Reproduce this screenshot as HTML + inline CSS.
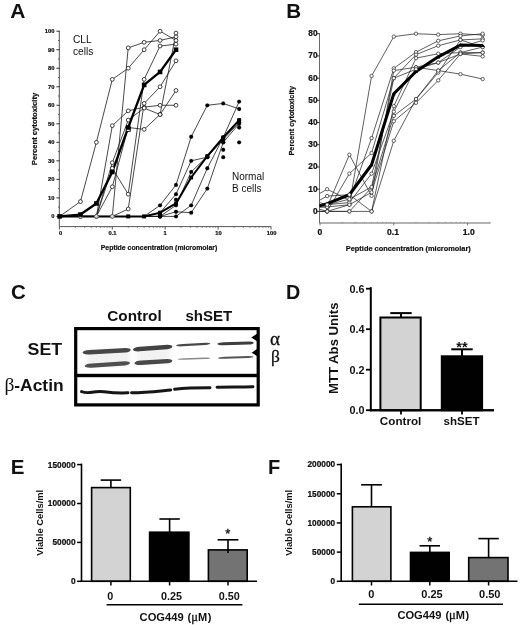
<!DOCTYPE html>
<html><head><meta charset="utf-8"><title>Figure</title>
<style>
html,body{margin:0;padding:0;background:#fff;}
body{width:520px;height:625px;overflow:hidden;font-family:"Liberation Sans",sans-serif;}
svg{display:block;font-family:"Liberation Sans",sans-serif;will-change:transform;opacity:0.999;}
</style></head><body>
<svg width="520" height="625" viewBox="0 0 520 625">
<rect width="520" height="625" fill="#fff"/>
<text x="10.30" y="17.50" font-size="21" font-weight="bold" text-anchor="start" fill="#111" >A</text>
<line x1="59.30" y1="30.80" x2="59.30" y2="226.60" stroke="#333" stroke-width="0.85" />
<line x1="56.40" y1="216.40" x2="59.60" y2="216.40" stroke="#222" stroke-width="0.9" />
<text x="54.40" y="218.40" font-size="5.8" font-weight="bold" text-anchor="end" fill="#111"  stroke="#111" stroke-width="0.22">0</text>
<line x1="58.00" y1="207.14" x2="59.60" y2="207.14" stroke="#333" stroke-width="0.7" />
<line x1="56.40" y1="197.88" x2="59.60" y2="197.88" stroke="#222" stroke-width="0.9" />
<text x="54.40" y="199.88" font-size="5.8" font-weight="bold" text-anchor="end" fill="#111"  stroke="#111" stroke-width="0.22">10</text>
<line x1="58.00" y1="188.62" x2="59.60" y2="188.62" stroke="#333" stroke-width="0.7" />
<line x1="56.40" y1="179.36" x2="59.60" y2="179.36" stroke="#222" stroke-width="0.9" />
<text x="54.40" y="181.36" font-size="5.8" font-weight="bold" text-anchor="end" fill="#111"  stroke="#111" stroke-width="0.22">20</text>
<line x1="58.00" y1="170.10" x2="59.60" y2="170.10" stroke="#333" stroke-width="0.7" />
<line x1="56.40" y1="160.84" x2="59.60" y2="160.84" stroke="#222" stroke-width="0.9" />
<text x="54.40" y="162.84" font-size="5.8" font-weight="bold" text-anchor="end" fill="#111"  stroke="#111" stroke-width="0.22">30</text>
<line x1="58.00" y1="151.58" x2="59.60" y2="151.58" stroke="#333" stroke-width="0.7" />
<line x1="56.40" y1="142.32" x2="59.60" y2="142.32" stroke="#222" stroke-width="0.9" />
<text x="54.40" y="144.32" font-size="5.8" font-weight="bold" text-anchor="end" fill="#111"  stroke="#111" stroke-width="0.22">40</text>
<line x1="58.00" y1="133.06" x2="59.60" y2="133.06" stroke="#333" stroke-width="0.7" />
<line x1="56.40" y1="123.80" x2="59.60" y2="123.80" stroke="#222" stroke-width="0.9" />
<text x="54.40" y="125.80" font-size="5.8" font-weight="bold" text-anchor="end" fill="#111"  stroke="#111" stroke-width="0.22">50</text>
<line x1="58.00" y1="114.54" x2="59.60" y2="114.54" stroke="#333" stroke-width="0.7" />
<line x1="56.40" y1="105.28" x2="59.60" y2="105.28" stroke="#222" stroke-width="0.9" />
<text x="54.40" y="107.28" font-size="5.8" font-weight="bold" text-anchor="end" fill="#111"  stroke="#111" stroke-width="0.22">60</text>
<line x1="58.00" y1="96.02" x2="59.60" y2="96.02" stroke="#333" stroke-width="0.7" />
<line x1="56.40" y1="86.76" x2="59.60" y2="86.76" stroke="#222" stroke-width="0.9" />
<text x="54.40" y="88.76" font-size="5.8" font-weight="bold" text-anchor="end" fill="#111"  stroke="#111" stroke-width="0.22">70</text>
<line x1="58.00" y1="77.50" x2="59.60" y2="77.50" stroke="#333" stroke-width="0.7" />
<line x1="56.40" y1="68.24" x2="59.60" y2="68.24" stroke="#222" stroke-width="0.9" />
<text x="54.40" y="70.24" font-size="5.8" font-weight="bold" text-anchor="end" fill="#111"  stroke="#111" stroke-width="0.22">80</text>
<line x1="58.00" y1="58.98" x2="59.60" y2="58.98" stroke="#333" stroke-width="0.7" />
<line x1="56.40" y1="49.72" x2="59.60" y2="49.72" stroke="#222" stroke-width="0.9" />
<text x="54.40" y="51.72" font-size="5.8" font-weight="bold" text-anchor="end" fill="#111"  stroke="#111" stroke-width="0.22">90</text>
<line x1="58.00" y1="40.46" x2="59.60" y2="40.46" stroke="#333" stroke-width="0.7" />
<line x1="56.40" y1="31.20" x2="59.60" y2="31.20" stroke="#222" stroke-width="0.9" />
<text x="54.40" y="33.20" font-size="5.8" font-weight="bold" text-anchor="end" fill="#111"  stroke="#111" stroke-width="0.22">100</text>
<text transform="translate(37.00,129.00) rotate(-90)" font-size="7.3" font-weight="bold" text-anchor="middle" fill="#111" textLength="72.4" lengthAdjust="spacingAndGlyphs" stroke="#111" stroke-width="0.22">Percent cytotoxicity</text>
<line x1="59.60" y1="226.60" x2="271.20" y2="226.60" stroke="#444" stroke-width="0.9" />
<line x1="59.40" y1="226.60" x2="59.40" y2="229.60" stroke="#333" stroke-width="0.8" />
<line x1="75.32" y1="226.60" x2="75.32" y2="228.10" stroke="#555" stroke-width="0.6" />
<line x1="84.64" y1="226.60" x2="84.64" y2="228.10" stroke="#555" stroke-width="0.6" />
<line x1="91.25" y1="226.60" x2="91.25" y2="228.10" stroke="#555" stroke-width="0.6" />
<line x1="96.38" y1="226.60" x2="96.38" y2="228.10" stroke="#555" stroke-width="0.6" />
<line x1="100.56" y1="226.60" x2="100.56" y2="228.10" stroke="#555" stroke-width="0.6" />
<line x1="104.11" y1="226.60" x2="104.11" y2="228.10" stroke="#555" stroke-width="0.6" />
<line x1="107.17" y1="226.60" x2="107.17" y2="228.10" stroke="#555" stroke-width="0.6" />
<line x1="109.88" y1="226.60" x2="109.88" y2="228.10" stroke="#555" stroke-width="0.6" />
<line x1="112.30" y1="226.60" x2="112.30" y2="229.60" stroke="#333" stroke-width="0.8" />
<line x1="128.22" y1="226.60" x2="128.22" y2="228.10" stroke="#555" stroke-width="0.6" />
<line x1="137.54" y1="226.60" x2="137.54" y2="228.10" stroke="#555" stroke-width="0.6" />
<line x1="144.15" y1="226.60" x2="144.15" y2="228.10" stroke="#555" stroke-width="0.6" />
<line x1="149.28" y1="226.60" x2="149.28" y2="228.10" stroke="#555" stroke-width="0.6" />
<line x1="153.46" y1="226.60" x2="153.46" y2="228.10" stroke="#555" stroke-width="0.6" />
<line x1="157.01" y1="226.60" x2="157.01" y2="228.10" stroke="#555" stroke-width="0.6" />
<line x1="160.07" y1="226.60" x2="160.07" y2="228.10" stroke="#555" stroke-width="0.6" />
<line x1="162.78" y1="226.60" x2="162.78" y2="228.10" stroke="#555" stroke-width="0.6" />
<line x1="165.20" y1="226.60" x2="165.20" y2="229.60" stroke="#333" stroke-width="0.8" />
<line x1="181.12" y1="226.60" x2="181.12" y2="228.10" stroke="#555" stroke-width="0.6" />
<line x1="190.44" y1="226.60" x2="190.44" y2="228.10" stroke="#555" stroke-width="0.6" />
<line x1="197.05" y1="226.60" x2="197.05" y2="228.10" stroke="#555" stroke-width="0.6" />
<line x1="202.18" y1="226.60" x2="202.18" y2="228.10" stroke="#555" stroke-width="0.6" />
<line x1="206.36" y1="226.60" x2="206.36" y2="228.10" stroke="#555" stroke-width="0.6" />
<line x1="209.91" y1="226.60" x2="209.91" y2="228.10" stroke="#555" stroke-width="0.6" />
<line x1="212.97" y1="226.60" x2="212.97" y2="228.10" stroke="#555" stroke-width="0.6" />
<line x1="215.68" y1="226.60" x2="215.68" y2="228.10" stroke="#555" stroke-width="0.6" />
<line x1="218.10" y1="226.60" x2="218.10" y2="229.60" stroke="#333" stroke-width="0.8" />
<line x1="234.02" y1="226.60" x2="234.02" y2="228.10" stroke="#555" stroke-width="0.6" />
<line x1="243.34" y1="226.60" x2="243.34" y2="228.10" stroke="#555" stroke-width="0.6" />
<line x1="249.95" y1="226.60" x2="249.95" y2="228.10" stroke="#555" stroke-width="0.6" />
<line x1="255.08" y1="226.60" x2="255.08" y2="228.10" stroke="#555" stroke-width="0.6" />
<line x1="259.26" y1="226.60" x2="259.26" y2="228.10" stroke="#555" stroke-width="0.6" />
<line x1="262.81" y1="226.60" x2="262.81" y2="228.10" stroke="#555" stroke-width="0.6" />
<line x1="265.87" y1="226.60" x2="265.87" y2="228.10" stroke="#555" stroke-width="0.6" />
<line x1="268.58" y1="226.60" x2="268.58" y2="228.10" stroke="#555" stroke-width="0.6" />
<line x1="271.00" y1="226.60" x2="271.00" y2="229.60" stroke="#333" stroke-width="0.8" />
<text x="60.70" y="235.30" font-size="5.8" font-weight="bold" text-anchor="middle" fill="#111"  stroke="#111" stroke-width="0.22">0</text>
<text x="112.50" y="235.30" font-size="5.8" font-weight="bold" text-anchor="middle" fill="#111"  stroke="#111" stroke-width="0.22">0.1</text>
<text x="165.20" y="235.30" font-size="5.8" font-weight="bold" text-anchor="middle" fill="#111"  stroke="#111" stroke-width="0.22">1</text>
<text x="218.60" y="235.30" font-size="5.8" font-weight="bold" text-anchor="middle" fill="#111"  stroke="#111" stroke-width="0.22">10</text>
<text x="271.60" y="235.30" font-size="5.8" font-weight="bold" text-anchor="middle" fill="#111"  stroke="#111" stroke-width="0.22">100</text>
<text x="159.00" y="249.60" font-size="7.2" font-weight="bold" text-anchor="middle" fill="#111" textLength="116.5" lengthAdjust="spacingAndGlyphs" stroke="#111" stroke-width="0.22">Peptide concentration (micromolar)</text>
<text x="73.00" y="43.00" font-size="10.2" font-weight="normal" text-anchor="start" fill="#111" >CLL</text>
<text x="73.00" y="55.40" font-size="10.2" font-weight="normal" text-anchor="start" fill="#111" >cells</text>
<text x="232.00" y="180.20" font-size="10" font-weight="normal" text-anchor="start" fill="#111" >Normal</text>
<text x="232.00" y="191.50" font-size="10" font-weight="normal" text-anchor="start" fill="#111" >B cells</text>
<polyline points="59.60,216.40 80.45,201.58 96.38,142.32 112.30,79.35 128.22,68.24 144.15,49.72 160.07,31.20 176.00,40.46" fill="none" stroke="#1a1a1a" stroke-width="0.8" stroke-linejoin="round" />
<polyline points="59.60,216.40 80.45,216.40 96.38,216.40 112.30,216.40 128.22,47.87 144.15,42.31 160.07,40.46 176.00,36.76" fill="none" stroke="#1a1a1a" stroke-width="0.8" stroke-linejoin="round" />
<polyline points="59.60,216.40 80.45,216.40 96.38,216.40 112.30,125.65 128.22,110.84 144.15,107.13 160.07,105.28 176.00,105.28" fill="none" stroke="#1a1a1a" stroke-width="0.8" stroke-linejoin="round" />
<polyline points="59.60,216.40 80.45,216.40 96.38,216.40 112.30,162.69 128.22,120.10 144.15,108.06 160.07,114.54 176.00,90.46" fill="none" stroke="#1a1a1a" stroke-width="0.8" stroke-linejoin="round" />
<polyline points="59.60,216.40 80.45,216.40 96.38,216.40 112.30,186.77 128.22,127.50 144.15,129.36 160.07,114.54 176.00,33.05" fill="none" stroke="#1a1a1a" stroke-width="0.8" stroke-linejoin="round" />
<polyline points="59.60,216.40 80.45,216.40 96.38,216.40 112.30,168.25 128.22,194.18 144.15,79.35 160.07,46.02 176.00,44.16" fill="none" stroke="#1a1a1a" stroke-width="0.8" stroke-linejoin="round" />
<polyline points="59.60,216.40 80.45,216.40 96.38,216.40 112.30,216.40 128.22,208.99 144.15,103.43 160.07,86.76 176.00,60.83" fill="none" stroke="#1a1a1a" stroke-width="0.8" stroke-linejoin="round" />
<polyline points="144.15,216.40 160.07,205.29 176.00,184.92 191.19,136.76 207.30,105.28 223.23,103.43 239.15,108.98" fill="none" stroke="#1a1a1a" stroke-width="0.8" stroke-linejoin="round" />
<polyline points="144.15,216.40 160.07,212.70 176.00,194.18 191.19,160.84 207.30,157.14 223.23,139.36 239.15,122.50" fill="none" stroke="#1a1a1a" stroke-width="0.8" stroke-linejoin="round" />
<polyline points="144.15,216.40 160.07,216.40 176.00,205.29 191.19,171.95 207.30,156.21 223.23,137.50 239.15,120.10" fill="none" stroke="#1a1a1a" stroke-width="0.8" stroke-linejoin="round" />
<polyline points="144.15,216.40 160.07,216.40 176.00,216.40 191.19,205.29 207.30,168.25 223.23,137.50 239.15,101.58" fill="none" stroke="#1a1a1a" stroke-width="0.8" stroke-linejoin="round" />
<polyline points="144.15,216.40 160.07,216.40 176.00,211.77 191.19,212.70 207.30,188.62 223.23,142.32 239.15,123.80" fill="none" stroke="#1a1a1a" stroke-width="0.8" stroke-linejoin="round" />
<polyline points="59.60,216.40 80.45,214.55 96.38,203.44 112.30,171.95 128.22,127.50 144.15,84.91 160.07,71.94 176.00,49.72" fill="none" stroke="#000" stroke-width="2.3" stroke-linejoin="round" />
<polyline points="59.60,216.40 144.15,216.40 160.07,212.70 176.00,203.44 191.19,177.51 207.30,156.21 223.23,137.50 239.15,120.10" fill="none" stroke="#000" stroke-width="2.0" stroke-linejoin="round" />
<circle cx="80.45" cy="201.58" r="1.9" fill="#fff" stroke="#111" stroke-width="0.8"/>
<circle cx="96.38" cy="142.32" r="1.9" fill="#fff" stroke="#111" stroke-width="0.8"/>
<circle cx="112.30" cy="79.35" r="1.9" fill="#fff" stroke="#111" stroke-width="0.8"/>
<circle cx="128.22" cy="68.24" r="1.9" fill="#fff" stroke="#111" stroke-width="0.8"/>
<circle cx="144.15" cy="49.72" r="1.9" fill="#fff" stroke="#111" stroke-width="0.8"/>
<circle cx="160.07" cy="31.20" r="1.9" fill="#fff" stroke="#111" stroke-width="0.8"/>
<circle cx="176.00" cy="40.46" r="1.9" fill="#fff" stroke="#111" stroke-width="0.8"/>
<circle cx="80.45" cy="216.40" r="1.9" fill="#ddd" stroke="#555" stroke-width="0.8"/>
<circle cx="96.38" cy="216.40" r="1.9" fill="#ddd" stroke="#555" stroke-width="0.8"/>
<circle cx="112.30" cy="216.40" r="1.9" fill="#ddd" stroke="#555" stroke-width="0.8"/>
<circle cx="128.22" cy="47.87" r="1.9" fill="#fff" stroke="#111" stroke-width="0.8"/>
<circle cx="144.15" cy="42.31" r="1.9" fill="#fff" stroke="#111" stroke-width="0.8"/>
<circle cx="160.07" cy="40.46" r="1.9" fill="#fff" stroke="#111" stroke-width="0.8"/>
<circle cx="176.00" cy="36.76" r="1.9" fill="#fff" stroke="#111" stroke-width="0.8"/>
<circle cx="80.45" cy="216.40" r="1.9" fill="#ddd" stroke="#555" stroke-width="0.8"/>
<circle cx="96.38" cy="216.40" r="1.9" fill="#ddd" stroke="#555" stroke-width="0.8"/>
<circle cx="112.30" cy="125.65" r="1.9" fill="#fff" stroke="#111" stroke-width="0.8"/>
<circle cx="128.22" cy="110.84" r="1.9" fill="#fff" stroke="#111" stroke-width="0.8"/>
<circle cx="144.15" cy="107.13" r="1.9" fill="#fff" stroke="#111" stroke-width="0.8"/>
<circle cx="160.07" cy="105.28" r="1.9" fill="#fff" stroke="#111" stroke-width="0.8"/>
<circle cx="176.00" cy="105.28" r="1.9" fill="#fff" stroke="#111" stroke-width="0.8"/>
<circle cx="80.45" cy="216.40" r="1.9" fill="#ddd" stroke="#555" stroke-width="0.8"/>
<circle cx="96.38" cy="216.40" r="1.9" fill="#ddd" stroke="#555" stroke-width="0.8"/>
<circle cx="112.30" cy="162.69" r="1.9" fill="#fff" stroke="#111" stroke-width="0.8"/>
<circle cx="128.22" cy="120.10" r="1.9" fill="#fff" stroke="#111" stroke-width="0.8"/>
<circle cx="144.15" cy="108.06" r="1.9" fill="#fff" stroke="#111" stroke-width="0.8"/>
<circle cx="160.07" cy="114.54" r="1.9" fill="#fff" stroke="#111" stroke-width="0.8"/>
<circle cx="176.00" cy="90.46" r="1.9" fill="#fff" stroke="#111" stroke-width="0.8"/>
<circle cx="80.45" cy="216.40" r="1.9" fill="#ddd" stroke="#555" stroke-width="0.8"/>
<circle cx="96.38" cy="216.40" r="1.9" fill="#ddd" stroke="#555" stroke-width="0.8"/>
<circle cx="112.30" cy="186.77" r="1.9" fill="#fff" stroke="#111" stroke-width="0.8"/>
<circle cx="128.22" cy="127.50" r="1.9" fill="#fff" stroke="#111" stroke-width="0.8"/>
<circle cx="144.15" cy="129.36" r="1.9" fill="#fff" stroke="#111" stroke-width="0.8"/>
<circle cx="160.07" cy="114.54" r="1.9" fill="#fff" stroke="#111" stroke-width="0.8"/>
<circle cx="176.00" cy="33.05" r="1.9" fill="#fff" stroke="#111" stroke-width="0.8"/>
<circle cx="80.45" cy="216.40" r="1.9" fill="#ddd" stroke="#555" stroke-width="0.8"/>
<circle cx="96.38" cy="216.40" r="1.9" fill="#ddd" stroke="#555" stroke-width="0.8"/>
<circle cx="112.30" cy="168.25" r="1.9" fill="#fff" stroke="#111" stroke-width="0.8"/>
<circle cx="128.22" cy="194.18" r="1.9" fill="#fff" stroke="#111" stroke-width="0.8"/>
<circle cx="144.15" cy="79.35" r="1.9" fill="#fff" stroke="#111" stroke-width="0.8"/>
<circle cx="160.07" cy="46.02" r="1.9" fill="#fff" stroke="#111" stroke-width="0.8"/>
<circle cx="176.00" cy="44.16" r="1.9" fill="#fff" stroke="#111" stroke-width="0.8"/>
<circle cx="80.45" cy="216.40" r="1.9" fill="#ddd" stroke="#555" stroke-width="0.8"/>
<circle cx="96.38" cy="216.40" r="1.9" fill="#ddd" stroke="#555" stroke-width="0.8"/>
<circle cx="112.30" cy="216.40" r="1.9" fill="#ddd" stroke="#555" stroke-width="0.8"/>
<circle cx="128.22" cy="208.99" r="1.9" fill="#fff" stroke="#111" stroke-width="0.8"/>
<circle cx="144.15" cy="103.43" r="1.9" fill="#fff" stroke="#111" stroke-width="0.8"/>
<circle cx="160.07" cy="86.76" r="1.9" fill="#fff" stroke="#111" stroke-width="0.8"/>
<circle cx="176.00" cy="60.83" r="1.9" fill="#fff" stroke="#111" stroke-width="0.8"/>
<rect x="126.22" y="127.36" width="4" height="4" fill="#fff" stroke="#000" stroke-width="0.9"/>
<rect x="57.30" y="214.10" width="4.6" height="4.6" fill="#000"/>
<rect x="78.15" y="212.25" width="4.6" height="4.6" fill="#000"/>
<rect x="94.08" y="201.14" width="4.6" height="4.6" fill="#000"/>
<rect x="110.00" y="169.65" width="4.6" height="4.6" fill="#000"/>
<rect x="125.92" y="125.20" width="4.6" height="4.6" fill="#000"/>
<rect x="141.85" y="82.61" width="4.6" height="4.6" fill="#000"/>
<rect x="157.77" y="69.64" width="4.6" height="4.6" fill="#000"/>
<rect x="173.70" y="47.42" width="4.6" height="4.6" fill="#000"/>
<circle cx="160.07" cy="205.29" r="1.9" fill="#000" stroke="#000" stroke-width="0.2"/>
<circle cx="176.00" cy="184.92" r="1.9" fill="#000" stroke="#000" stroke-width="0.2"/>
<circle cx="191.19" cy="136.76" r="1.9" fill="#000" stroke="#000" stroke-width="0.2"/>
<circle cx="207.30" cy="105.28" r="1.9" fill="#000" stroke="#000" stroke-width="0.2"/>
<circle cx="223.23" cy="103.43" r="1.9" fill="#000" stroke="#000" stroke-width="0.2"/>
<circle cx="239.15" cy="108.98" r="1.9" fill="#000" stroke="#000" stroke-width="0.2"/>
<circle cx="160.07" cy="212.70" r="1.9" fill="#000" stroke="#000" stroke-width="0.2"/>
<circle cx="176.00" cy="194.18" r="1.9" fill="#000" stroke="#000" stroke-width="0.2"/>
<circle cx="191.19" cy="160.84" r="1.9" fill="#000" stroke="#000" stroke-width="0.2"/>
<circle cx="207.30" cy="157.14" r="1.9" fill="#000" stroke="#000" stroke-width="0.2"/>
<circle cx="223.23" cy="139.36" r="1.9" fill="#000" stroke="#000" stroke-width="0.2"/>
<circle cx="239.15" cy="122.50" r="1.9" fill="#000" stroke="#000" stroke-width="0.2"/>
<circle cx="160.07" cy="216.40" r="1.9" fill="#000" stroke="#000" stroke-width="0.2"/>
<circle cx="176.00" cy="205.29" r="1.9" fill="#000" stroke="#000" stroke-width="0.2"/>
<circle cx="191.19" cy="171.95" r="1.9" fill="#000" stroke="#000" stroke-width="0.2"/>
<circle cx="207.30" cy="156.21" r="1.9" fill="#000" stroke="#000" stroke-width="0.2"/>
<circle cx="223.23" cy="137.50" r="1.9" fill="#000" stroke="#000" stroke-width="0.2"/>
<circle cx="239.15" cy="120.10" r="1.9" fill="#000" stroke="#000" stroke-width="0.2"/>
<circle cx="160.07" cy="216.40" r="1.9" fill="#000" stroke="#000" stroke-width="0.2"/>
<circle cx="176.00" cy="216.40" r="1.9" fill="#000" stroke="#000" stroke-width="0.2"/>
<circle cx="191.19" cy="205.29" r="1.9" fill="#000" stroke="#000" stroke-width="0.2"/>
<circle cx="207.30" cy="168.25" r="1.9" fill="#000" stroke="#000" stroke-width="0.2"/>
<circle cx="223.23" cy="137.50" r="1.9" fill="#000" stroke="#000" stroke-width="0.2"/>
<circle cx="239.15" cy="101.58" r="1.9" fill="#000" stroke="#000" stroke-width="0.2"/>
<circle cx="160.07" cy="216.40" r="1.9" fill="#000" stroke="#000" stroke-width="0.2"/>
<circle cx="176.00" cy="211.77" r="1.9" fill="#000" stroke="#000" stroke-width="0.2"/>
<circle cx="191.19" cy="212.70" r="1.9" fill="#000" stroke="#000" stroke-width="0.2"/>
<circle cx="207.30" cy="188.62" r="1.9" fill="#000" stroke="#000" stroke-width="0.2"/>
<circle cx="223.23" cy="142.32" r="1.9" fill="#000" stroke="#000" stroke-width="0.2"/>
<circle cx="239.15" cy="123.80" r="1.9" fill="#000" stroke="#000" stroke-width="0.2"/>
<circle cx="223.23" cy="149.73" r="1.9" fill="#000" stroke="#000" stroke-width="0.2"/>
<circle cx="223.23" cy="157.14" r="1.9" fill="#000" stroke="#000" stroke-width="0.2"/>
<circle cx="239.15" cy="142.32" r="1.9" fill="#000" stroke="#000" stroke-width="0.2"/>
<circle cx="176.00" cy="199.73" r="1.9" fill="#000" stroke="#000" stroke-width="0.2"/>
<circle cx="239.15" cy="127.50" r="1.9" fill="#000" stroke="#000" stroke-width="0.2"/>
<circle cx="207.30" cy="157.14" r="1.9" fill="#000" stroke="#000" stroke-width="0.2"/>
<circle cx="223.23" cy="142.32" r="1.9" fill="#000" stroke="#000" stroke-width="0.2"/>
<circle cx="160.07" cy="216.40" r="1.9" fill="#000" stroke="#000" stroke-width="0.2"/>
<circle cx="160.07" cy="214.55" r="1.9" fill="#000" stroke="#000" stroke-width="0.2"/>
<rect x="158.17" y="210.80" width="3.8" height="3.8" fill="#000"/>
<rect x="174.10" y="201.54" width="3.8" height="3.8" fill="#000"/>
<rect x="189.29" y="175.61" width="3.8" height="3.8" fill="#000"/>
<rect x="205.40" y="154.31" width="3.8" height="3.8" fill="#000"/>
<rect x="221.33" y="135.60" width="3.8" height="3.8" fill="#000"/>
<rect x="237.25" y="118.20" width="3.8" height="3.8" fill="#000"/>
<rect x="126.22" y="214.40" width="4.0" height="4.0" fill="#000"/>
<rect x="142.15" y="214.40" width="4.0" height="4.0" fill="#000"/>
<text x="286.30" y="18.10" font-size="20.6" font-weight="bold" text-anchor="start" fill="#111" >B</text>
<line x1="319.50" y1="33.20" x2="319.50" y2="223.00" stroke="#444" stroke-width="0.8" />
<line x1="317.00" y1="211.40" x2="319.50" y2="211.40" stroke="#222" stroke-width="0.9" />
<text x="317.50" y="213.90" font-size="8.3" font-weight="bold" text-anchor="end" fill="#111"  stroke="#111" stroke-width="0.22">0</text>
<line x1="317.00" y1="189.19" x2="319.50" y2="189.19" stroke="#222" stroke-width="0.9" />
<text x="317.50" y="191.69" font-size="8.3" font-weight="bold" text-anchor="end" fill="#111"  stroke="#111" stroke-width="0.22">10</text>
<line x1="317.00" y1="166.98" x2="319.50" y2="166.98" stroke="#222" stroke-width="0.9" />
<text x="317.50" y="169.48" font-size="8.3" font-weight="bold" text-anchor="end" fill="#111"  stroke="#111" stroke-width="0.22">20</text>
<line x1="317.00" y1="144.77" x2="319.50" y2="144.77" stroke="#222" stroke-width="0.9" />
<text x="317.50" y="147.27" font-size="8.3" font-weight="bold" text-anchor="end" fill="#111"  stroke="#111" stroke-width="0.22">30</text>
<line x1="317.00" y1="122.56" x2="319.50" y2="122.56" stroke="#222" stroke-width="0.9" />
<text x="317.50" y="125.06" font-size="8.3" font-weight="bold" text-anchor="end" fill="#111"  stroke="#111" stroke-width="0.22">40</text>
<line x1="317.00" y1="100.35" x2="319.50" y2="100.35" stroke="#222" stroke-width="0.9" />
<text x="317.50" y="102.85" font-size="8.3" font-weight="bold" text-anchor="end" fill="#111"  stroke="#111" stroke-width="0.22">50</text>
<line x1="317.00" y1="78.14" x2="319.50" y2="78.14" stroke="#222" stroke-width="0.9" />
<text x="317.50" y="80.64" font-size="8.3" font-weight="bold" text-anchor="end" fill="#111"  stroke="#111" stroke-width="0.22">60</text>
<line x1="317.00" y1="55.93" x2="319.50" y2="55.93" stroke="#222" stroke-width="0.9" />
<text x="317.50" y="58.43" font-size="8.3" font-weight="bold" text-anchor="end" fill="#111"  stroke="#111" stroke-width="0.22">70</text>
<line x1="317.00" y1="33.72" x2="319.50" y2="33.72" stroke="#222" stroke-width="0.9" />
<text x="317.50" y="36.22" font-size="8.3" font-weight="bold" text-anchor="end" fill="#111"  stroke="#111" stroke-width="0.22">80</text>
<text transform="translate(293.70,120.80) rotate(-90)" font-size="7.6" font-weight="bold" text-anchor="middle" fill="#111" textLength="69.5" lengthAdjust="spacingAndGlyphs" stroke="#111" stroke-width="0.22">Percent cytotoxicity</text>
<line x1="319.50" y1="223.00" x2="490.50" y2="223.00" stroke="#555" stroke-width="0.9" />
<line x1="320.00" y1="223.00" x2="320.00" y2="225.50" stroke="#444" stroke-width="0.7" />
<line x1="342.22" y1="221.80" x2="342.22" y2="223.00" stroke="#666" stroke-width="0.5" />
<line x1="355.21" y1="221.80" x2="355.21" y2="223.00" stroke="#666" stroke-width="0.5" />
<line x1="364.43" y1="221.80" x2="364.43" y2="223.00" stroke="#666" stroke-width="0.5" />
<line x1="371.58" y1="221.80" x2="371.58" y2="223.00" stroke="#666" stroke-width="0.5" />
<line x1="377.43" y1="221.80" x2="377.43" y2="223.00" stroke="#666" stroke-width="0.5" />
<line x1="382.37" y1="221.80" x2="382.37" y2="223.00" stroke="#666" stroke-width="0.5" />
<line x1="386.65" y1="221.80" x2="386.65" y2="223.00" stroke="#666" stroke-width="0.5" />
<line x1="390.42" y1="221.80" x2="390.42" y2="223.00" stroke="#666" stroke-width="0.5" />
<line x1="393.80" y1="223.00" x2="393.80" y2="225.50" stroke="#444" stroke-width="0.7" />
<line x1="416.02" y1="221.80" x2="416.02" y2="223.00" stroke="#666" stroke-width="0.5" />
<line x1="429.01" y1="221.80" x2="429.01" y2="223.00" stroke="#666" stroke-width="0.5" />
<line x1="438.23" y1="221.80" x2="438.23" y2="223.00" stroke="#666" stroke-width="0.5" />
<line x1="445.38" y1="221.80" x2="445.38" y2="223.00" stroke="#666" stroke-width="0.5" />
<line x1="451.23" y1="221.80" x2="451.23" y2="223.00" stroke="#666" stroke-width="0.5" />
<line x1="456.17" y1="221.80" x2="456.17" y2="223.00" stroke="#666" stroke-width="0.5" />
<line x1="460.45" y1="221.80" x2="460.45" y2="223.00" stroke="#666" stroke-width="0.5" />
<line x1="464.22" y1="221.80" x2="464.22" y2="223.00" stroke="#666" stroke-width="0.5" />
<line x1="467.60" y1="223.00" x2="467.60" y2="225.50" stroke="#444" stroke-width="0.7" />
<line x1="489.82" y1="221.80" x2="489.82" y2="223.00" stroke="#666" stroke-width="0.5" />
<text x="320.00" y="234.60" font-size="8.6" font-weight="bold" text-anchor="middle" fill="#111"  stroke="#111" stroke-width="0.22">0</text>
<text x="393.00" y="234.60" font-size="8.6" font-weight="bold" text-anchor="middle" fill="#111"  stroke="#111" stroke-width="0.22">0.1</text>
<text x="468.80" y="234.60" font-size="8.6" font-weight="bold" text-anchor="middle" fill="#111"  stroke="#111" stroke-width="0.22">1.0</text>
<text x="408.30" y="251.20" font-size="7.6" font-weight="bold" text-anchor="middle" fill="#111" textLength="125" lengthAdjust="spacingAndGlyphs" stroke="#111" stroke-width="0.22">Peptide concentration (micromolar)</text>
<polyline points="319.50,211.40 327.15,211.40 349.37,204.74 371.58,75.92 393.80,36.61 416.02,33.72 438.23,34.61 460.45,33.72 482.66,35.05" fill="none" stroke="#2a2a2a" stroke-width="0.75" stroke-linejoin="round" />
<polyline points="319.50,193.63 327.15,189.19 349.37,200.30 371.58,138.11 393.80,68.37 416.02,52.15 438.23,40.83 460.45,35.94 482.66,33.72" fill="none" stroke="#2a2a2a" stroke-width="0.75" stroke-linejoin="round" />
<polyline points="319.50,206.96 327.15,206.96 349.37,154.76 371.58,195.85 393.80,70.59 416.02,67.26 438.23,70.59 460.45,74.14 482.66,79.03" fill="none" stroke="#2a2a2a" stroke-width="0.75" stroke-linejoin="round" />
<polyline points="319.50,211.40 327.15,211.40 349.37,173.64 371.58,152.99 393.80,78.14 416.02,54.60 438.23,45.71 460.45,39.94 482.66,38.83" fill="none" stroke="#2a2a2a" stroke-width="0.75" stroke-linejoin="round" />
<polyline points="319.50,200.30 327.15,196.08 349.37,194.74 371.58,211.40 393.80,106.12 416.02,58.15 438.23,53.71 460.45,52.60 482.66,52.60" fill="none" stroke="#2a2a2a" stroke-width="0.75" stroke-linejoin="round" />
<polyline points="319.50,204.74 327.15,204.74 349.37,202.52 371.58,173.64 393.80,111.68 416.02,67.26 438.23,62.59 460.45,47.05 482.66,40.38" fill="none" stroke="#2a2a2a" stroke-width="0.75" stroke-linejoin="round" />
<polyline points="319.50,209.18 327.15,211.40 349.37,211.40 371.58,187.64 393.80,115.90 416.02,99.02 438.23,72.59 460.45,39.94 482.66,47.05" fill="none" stroke="#2a2a2a" stroke-width="0.75" stroke-linejoin="round" />
<polyline points="319.50,206.96 327.15,206.96 349.37,204.74 371.58,192.30 393.80,121.23 416.02,102.79 438.23,80.36 460.45,53.93 482.66,56.37" fill="none" stroke="#2a2a2a" stroke-width="0.75" stroke-linejoin="round" />
<polyline points="319.50,211.40 327.15,211.40 349.37,211.40 371.58,211.40 393.80,140.77 416.02,99.02 438.23,70.59 460.45,52.60 482.66,47.05" fill="none" stroke="#2a2a2a" stroke-width="0.75" stroke-linejoin="round" />
<polyline points="319.50,202.52 327.15,204.74 349.37,199.18 371.58,186.97 393.80,78.14 416.02,69.26 438.23,62.59 460.45,53.93 482.66,52.60" fill="none" stroke="#2a2a2a" stroke-width="0.75" stroke-linejoin="round" />
<polyline points="319.50,205.85 327.15,203.63 349.37,194.74 371.58,164.76 393.80,93.69 416.02,71.48 438.23,56.82 460.45,45.05 482.66,45.49" fill="none" stroke="#000" stroke-width="3.0" stroke-linejoin="round" />
<circle cx="327.15" cy="211.40" r="1.7" fill="#fff" stroke="#222" stroke-width="0.7"/>
<circle cx="349.37" cy="204.74" r="1.7" fill="#fff" stroke="#222" stroke-width="0.7"/>
<circle cx="371.58" cy="75.92" r="1.7" fill="#fff" stroke="#222" stroke-width="0.7"/>
<circle cx="393.80" cy="36.61" r="1.7" fill="#fff" stroke="#222" stroke-width="0.7"/>
<circle cx="416.02" cy="33.72" r="1.7" fill="#fff" stroke="#222" stroke-width="0.7"/>
<circle cx="438.23" cy="34.61" r="1.7" fill="#fff" stroke="#222" stroke-width="0.7"/>
<circle cx="460.45" cy="33.72" r="1.7" fill="#fff" stroke="#222" stroke-width="0.7"/>
<circle cx="482.66" cy="35.05" r="1.7" fill="#fff" stroke="#222" stroke-width="0.7"/>
<circle cx="327.15" cy="189.19" r="1.7" fill="#fff" stroke="#222" stroke-width="0.7"/>
<circle cx="349.37" cy="200.30" r="1.7" fill="#fff" stroke="#222" stroke-width="0.7"/>
<circle cx="371.58" cy="138.11" r="1.7" fill="#fff" stroke="#222" stroke-width="0.7"/>
<circle cx="393.80" cy="68.37" r="1.7" fill="#fff" stroke="#222" stroke-width="0.7"/>
<circle cx="416.02" cy="52.15" r="1.7" fill="#fff" stroke="#222" stroke-width="0.7"/>
<circle cx="438.23" cy="40.83" r="1.7" fill="#fff" stroke="#222" stroke-width="0.7"/>
<circle cx="460.45" cy="35.94" r="1.7" fill="#fff" stroke="#222" stroke-width="0.7"/>
<circle cx="482.66" cy="33.72" r="1.7" fill="#fff" stroke="#222" stroke-width="0.7"/>
<circle cx="327.15" cy="206.96" r="1.7" fill="#fff" stroke="#222" stroke-width="0.7"/>
<circle cx="349.37" cy="154.76" r="1.7" fill="#fff" stroke="#222" stroke-width="0.7"/>
<circle cx="371.58" cy="195.85" r="1.7" fill="#fff" stroke="#222" stroke-width="0.7"/>
<circle cx="393.80" cy="70.59" r="1.7" fill="#fff" stroke="#222" stroke-width="0.7"/>
<circle cx="416.02" cy="67.26" r="1.7" fill="#fff" stroke="#222" stroke-width="0.7"/>
<circle cx="438.23" cy="70.59" r="1.7" fill="#fff" stroke="#222" stroke-width="0.7"/>
<circle cx="460.45" cy="74.14" r="1.7" fill="#fff" stroke="#222" stroke-width="0.7"/>
<circle cx="482.66" cy="79.03" r="1.7" fill="#fff" stroke="#222" stroke-width="0.7"/>
<circle cx="327.15" cy="211.40" r="1.7" fill="#fff" stroke="#222" stroke-width="0.7"/>
<circle cx="349.37" cy="173.64" r="1.7" fill="#fff" stroke="#222" stroke-width="0.7"/>
<circle cx="371.58" cy="152.99" r="1.7" fill="#fff" stroke="#222" stroke-width="0.7"/>
<circle cx="393.80" cy="78.14" r="1.7" fill="#fff" stroke="#222" stroke-width="0.7"/>
<circle cx="416.02" cy="54.60" r="1.7" fill="#fff" stroke="#222" stroke-width="0.7"/>
<circle cx="438.23" cy="45.71" r="1.7" fill="#fff" stroke="#222" stroke-width="0.7"/>
<circle cx="460.45" cy="39.94" r="1.7" fill="#fff" stroke="#222" stroke-width="0.7"/>
<circle cx="482.66" cy="38.83" r="1.7" fill="#fff" stroke="#222" stroke-width="0.7"/>
<circle cx="327.15" cy="196.08" r="1.7" fill="#fff" stroke="#222" stroke-width="0.7"/>
<circle cx="349.37" cy="194.74" r="1.7" fill="#fff" stroke="#222" stroke-width="0.7"/>
<circle cx="371.58" cy="211.40" r="1.7" fill="#fff" stroke="#222" stroke-width="0.7"/>
<circle cx="393.80" cy="106.12" r="1.7" fill="#fff" stroke="#222" stroke-width="0.7"/>
<circle cx="416.02" cy="58.15" r="1.7" fill="#fff" stroke="#222" stroke-width="0.7"/>
<circle cx="438.23" cy="53.71" r="1.7" fill="#fff" stroke="#222" stroke-width="0.7"/>
<circle cx="460.45" cy="52.60" r="1.7" fill="#fff" stroke="#222" stroke-width="0.7"/>
<circle cx="482.66" cy="52.60" r="1.7" fill="#fff" stroke="#222" stroke-width="0.7"/>
<circle cx="327.15" cy="204.74" r="1.7" fill="#fff" stroke="#222" stroke-width="0.7"/>
<circle cx="349.37" cy="202.52" r="1.7" fill="#fff" stroke="#222" stroke-width="0.7"/>
<circle cx="371.58" cy="173.64" r="1.7" fill="#fff" stroke="#222" stroke-width="0.7"/>
<circle cx="393.80" cy="111.68" r="1.7" fill="#fff" stroke="#222" stroke-width="0.7"/>
<circle cx="416.02" cy="67.26" r="1.7" fill="#fff" stroke="#222" stroke-width="0.7"/>
<circle cx="438.23" cy="62.59" r="1.7" fill="#fff" stroke="#222" stroke-width="0.7"/>
<circle cx="460.45" cy="47.05" r="1.7" fill="#fff" stroke="#222" stroke-width="0.7"/>
<circle cx="482.66" cy="40.38" r="1.7" fill="#fff" stroke="#222" stroke-width="0.7"/>
<circle cx="327.15" cy="211.40" r="1.7" fill="#fff" stroke="#222" stroke-width="0.7"/>
<circle cx="349.37" cy="211.40" r="1.7" fill="#fff" stroke="#222" stroke-width="0.7"/>
<circle cx="371.58" cy="187.64" r="1.7" fill="#fff" stroke="#222" stroke-width="0.7"/>
<circle cx="393.80" cy="115.90" r="1.7" fill="#fff" stroke="#222" stroke-width="0.7"/>
<circle cx="416.02" cy="99.02" r="1.7" fill="#fff" stroke="#222" stroke-width="0.7"/>
<circle cx="438.23" cy="72.59" r="1.7" fill="#fff" stroke="#222" stroke-width="0.7"/>
<circle cx="460.45" cy="39.94" r="1.7" fill="#fff" stroke="#222" stroke-width="0.7"/>
<circle cx="482.66" cy="47.05" r="1.7" fill="#fff" stroke="#222" stroke-width="0.7"/>
<circle cx="327.15" cy="206.96" r="1.7" fill="#fff" stroke="#222" stroke-width="0.7"/>
<circle cx="349.37" cy="204.74" r="1.7" fill="#fff" stroke="#222" stroke-width="0.7"/>
<circle cx="371.58" cy="192.30" r="1.7" fill="#fff" stroke="#222" stroke-width="0.7"/>
<circle cx="393.80" cy="121.23" r="1.7" fill="#fff" stroke="#222" stroke-width="0.7"/>
<circle cx="416.02" cy="102.79" r="1.7" fill="#fff" stroke="#222" stroke-width="0.7"/>
<circle cx="438.23" cy="80.36" r="1.7" fill="#fff" stroke="#222" stroke-width="0.7"/>
<circle cx="460.45" cy="53.93" r="1.7" fill="#fff" stroke="#222" stroke-width="0.7"/>
<circle cx="482.66" cy="56.37" r="1.7" fill="#fff" stroke="#222" stroke-width="0.7"/>
<circle cx="327.15" cy="211.40" r="1.7" fill="#fff" stroke="#222" stroke-width="0.7"/>
<circle cx="349.37" cy="211.40" r="1.7" fill="#fff" stroke="#222" stroke-width="0.7"/>
<circle cx="371.58" cy="211.40" r="1.7" fill="#fff" stroke="#222" stroke-width="0.7"/>
<circle cx="393.80" cy="140.77" r="1.7" fill="#fff" stroke="#222" stroke-width="0.7"/>
<circle cx="416.02" cy="99.02" r="1.7" fill="#fff" stroke="#222" stroke-width="0.7"/>
<circle cx="438.23" cy="70.59" r="1.7" fill="#fff" stroke="#222" stroke-width="0.7"/>
<circle cx="460.45" cy="52.60" r="1.7" fill="#fff" stroke="#222" stroke-width="0.7"/>
<circle cx="482.66" cy="47.05" r="1.7" fill="#fff" stroke="#222" stroke-width="0.7"/>
<circle cx="327.15" cy="204.74" r="1.7" fill="#fff" stroke="#222" stroke-width="0.7"/>
<circle cx="349.37" cy="199.18" r="1.7" fill="#fff" stroke="#222" stroke-width="0.7"/>
<circle cx="371.58" cy="186.97" r="1.7" fill="#fff" stroke="#222" stroke-width="0.7"/>
<circle cx="393.80" cy="78.14" r="1.7" fill="#fff" stroke="#222" stroke-width="0.7"/>
<circle cx="416.02" cy="69.26" r="1.7" fill="#fff" stroke="#222" stroke-width="0.7"/>
<circle cx="438.23" cy="62.59" r="1.7" fill="#fff" stroke="#222" stroke-width="0.7"/>
<circle cx="460.45" cy="53.93" r="1.7" fill="#fff" stroke="#222" stroke-width="0.7"/>
<circle cx="482.66" cy="52.60" r="1.7" fill="#fff" stroke="#222" stroke-width="0.7"/>
<path d="M369.58,166.36 L373.58,166.36 L371.58,162.76 Z" fill="#000"/>
<path d="M391.80,95.29 L395.80,95.29 L393.80,91.69 Z" fill="#000"/>
<path d="M414.02,73.08 L418.02,73.08 L416.02,69.48 Z" fill="#000"/>
<path d="M436.23,58.42 L440.23,58.42 L438.23,54.82 Z" fill="#000"/>
<path d="M458.45,46.65 L462.45,46.65 L460.45,43.05 Z" fill="#000"/>
<path d="M480.66,47.09 L484.66,47.09 L482.66,43.49 Z" fill="#000"/>
<text x="10.90" y="299.40" font-size="20.5" font-weight="bold" text-anchor="start" fill="#111" >C</text>
<text x="107.30" y="321.20" font-size="15.2" font-weight="bold" text-anchor="start" fill="#111" textLength="54.4" lengthAdjust="spacingAndGlyphs">Control</text>
<text x="185.40" y="321.20" font-size="15.2" font-weight="bold" text-anchor="start" fill="#111" textLength="46.8" lengthAdjust="spacingAndGlyphs">shSET</text>
<text x="27.60" y="354.60" font-size="17.2" font-weight="bold" text-anchor="start" fill="#111" textLength="34.6" lengthAdjust="spacingAndGlyphs">SET</text>
<text x="4.4" y="391.1" font-size="17.4" fill="#111"><tspan font-family="Liberation Serif, serif" font-weight="normal" font-size="19.5">β</tspan><tspan font-weight="bold">-Actin</tspan></text>
<rect x="75.7" y="328.6" width="182.5" height="76.3" fill="#fff" stroke="#000" stroke-width="3.2"/>
<rect x="75.7" y="373.8" width="182.5" height="3.4" fill="#000"/>
<defs><filter id="bl" filterUnits="userSpaceOnUse" x="70" y="320" width="200" height="90"><feGaussianBlur stdDeviation="0.75"/></filter><filter id="bl2" filterUnits="userSpaceOnUse" x="70" y="320" width="200" height="90"><feGaussianBlur stdDeviation="0.5"/></filter><filter id="bl3" filterUnits="userSpaceOnUse" x="70" y="320" width="200" height="90"><feGaussianBlur stdDeviation="2"/></filter></defs>
<rect x="86" y="350" width="44" height="16" fill="#f1f1f1" filter="url(#bl3)"/>
<rect x="137" y="348" width="33" height="15" fill="#f2f2f2" filter="url(#bl3)"/>
<path d="M82.50,352.60 Q83.50,350.34 89.50,350.01 L125.70,347.98 Q130.20,347.95 130.70,349.90 Q130.20,351.91 125.70,352.38 L89.50,354.41 Q83.50,354.74 82.50,352.60 Z" fill="#474747" filter="url(#bl)" opacity="1"/>
<path d="M132.80,349.60 Q133.80,347.22 139.80,346.77 L167.40,344.68 Q171.90,344.57 172.40,346.60 Q171.90,348.71 167.40,349.28 L139.80,351.37 Q133.80,351.82 132.80,349.60 Z" fill="#434343" filter="url(#bl)" opacity="1"/>
<path d="M175.80,345.60 Q176.80,344.44 182.72,344.10 L205.40,342.79 Q209.90,342.64 210.40,343.60 Q209.90,344.62 205.40,344.99 L182.72,346.30 Q176.80,346.64 175.80,345.60 Z" fill="#4a4a4a" filter="url(#bl2)" opacity="1"/>
<path d="M217.30,344.00 Q218.30,342.52 224.30,342.34 L248.80,341.60 Q253.30,341.61 253.80,342.90 Q253.30,344.22 248.80,344.50 L224.30,345.24 Q218.30,345.42 217.30,344.00 Z" fill="#3c3c3c" filter="url(#bl2)" opacity="1"/>
<path d="M84.60,366.00 Q85.60,363.83 91.60,363.44 L125.00,361.23 Q129.50,361.14 130.00,363.00 Q129.50,364.92 125.00,365.43 L91.60,367.64 Q85.60,368.03 84.60,366.00 Z" fill="#505050" filter="url(#bl)" opacity="1"/>
<path d="M134.30,363.20 Q135.30,360.94 141.30,360.56 L167.40,358.91 Q171.90,358.85 172.40,360.80 Q171.90,362.81 167.40,363.31 L141.30,364.96 Q135.30,365.34 134.30,363.20 Z" fill="#484848" filter="url(#bl)" opacity="1"/>
<path d="M177.70,359.30 Q178.70,358.52 184.24,358.33 L205.50,357.62 Q209.90,357.54 210.40,358.20 Q209.90,358.89 205.50,359.12 L184.24,359.83 Q178.70,360.02 177.70,359.30 Z" fill="#8a8a8a" filter="url(#bl2)" opacity="1"/>
<path d="M218.00,357.90 Q219.00,356.82 225.00,356.63 L248.50,355.90 Q253.00,355.87 253.50,356.80 Q253.00,357.76 248.50,358.00 L225.00,358.73 Q219.00,358.92 218.00,357.90 Z" fill="#555" filter="url(#bl2)" opacity="1"/>
<path d="M81.5,391.6 C85,392.8 88,392.9 92,392.2 S100,391.2 104,391.7 S118,393.3 128,392.8" fill="none" stroke="#161616" stroke-width="2.9" stroke-linecap="round" filter="url(#bl2)"/>
<path d="M131.5,392.8 C145,392.8 158,391.2 170.8,390.0" fill="none" stroke="#161616" stroke-width="2.9" stroke-linecap="round" filter="url(#bl2)"/>
<path d="M174.5,389.2 C186,388.0 198,387.8 210,387.8" fill="none" stroke="#161616" stroke-width="2.9" stroke-linecap="round" filter="url(#bl2)"/>
<path d="M217,387.2 C228,386.8 240,387.2 253,386.8" fill="none" stroke="#161616" stroke-width="2.9" stroke-linecap="round" filter="url(#bl2)"/>
<path d="M251.2,337.5 L257.4,333.5 L257.4,341.4 Z" fill="#000"/>
<path d="M251.6,352.7 L257.4,348.8 L257.4,356.2 Z" fill="#000"/>
<text x="270.0" y="344.6" font-family="Liberation Serif, serif" font-size="19" fill="#111" stroke="#111" stroke-width="0.3">α</text>
<text x="271.0" y="361.8" font-family="Liberation Serif, serif" font-size="17.5" fill="#111" stroke="#111" stroke-width="0.3">β</text>
<text x="286.10" y="299.10" font-size="19.8" font-weight="bold" text-anchor="start" fill="#111" >D</text>
<line x1="370.80" y1="287.20" x2="370.80" y2="411.20" stroke="#000" stroke-width="2" />
<line x1="369.80" y1="410.20" x2="494.00" y2="410.20" stroke="#000" stroke-width="2" />
<line x1="366.00" y1="410.20" x2="370.80" y2="410.20" stroke="#000" stroke-width="1.8" />
<text x="364.40" y="414.00" font-size="10.8" font-weight="bold" text-anchor="end" fill="#111" >0.0</text>
<line x1="366.00" y1="369.70" x2="370.80" y2="369.70" stroke="#000" stroke-width="1.8" />
<text x="364.40" y="373.50" font-size="10.8" font-weight="bold" text-anchor="end" fill="#111" >0.2</text>
<line x1="366.00" y1="329.20" x2="370.80" y2="329.20" stroke="#000" stroke-width="1.8" />
<text x="364.40" y="333.00" font-size="10.8" font-weight="bold" text-anchor="end" fill="#111" >0.4</text>
<line x1="366.00" y1="288.70" x2="370.80" y2="288.70" stroke="#000" stroke-width="1.8" />
<text x="364.40" y="292.50" font-size="10.8" font-weight="bold" text-anchor="end" fill="#111" >0.6</text>
<text transform="translate(337.60,348.30) rotate(-90)" font-size="13" font-weight="bold" text-anchor="middle" fill="#111" textLength="91.5" lengthAdjust="spacingAndGlyphs">MTT Abs Units</text>
<line x1="401.00" y1="313.10" x2="401.00" y2="317.50" stroke="#000" stroke-width="2" />
<line x1="390.30" y1="313.10" x2="411.70" y2="313.10" stroke="#000" stroke-width="2" />
<rect x="380.40" y="317.50" width="40.30" height="92.70" fill="#d3d3d3" stroke="#000" stroke-width="2"/>
<line x1="462.00" y1="349.30" x2="462.00" y2="356.30" stroke="#000" stroke-width="2" />
<line x1="451.30" y1="349.30" x2="472.70" y2="349.30" stroke="#000" stroke-width="2" />
<rect x="441.80" y="356.30" width="40.30" height="53.90" fill="#000" stroke="#000" stroke-width="2"/>
<line x1="369.80" y1="410.20" x2="494.00" y2="410.20" stroke="#000" stroke-width="2" />
<line x1="401.00" y1="410.20" x2="401.00" y2="414.40" stroke="#000" stroke-width="1.8" />
<line x1="462.00" y1="410.20" x2="462.00" y2="414.40" stroke="#000" stroke-width="1.8" />
<text x="400.60" y="425.00" font-size="11.6" font-weight="bold" text-anchor="middle" fill="#111" textLength="41.5" lengthAdjust="spacingAndGlyphs">Control</text>
<text x="461.60" y="425.00" font-size="11.6" font-weight="bold" text-anchor="middle" fill="#111" textLength="36" lengthAdjust="spacingAndGlyphs">shSET</text>
<text x="462.00" y="352.20" font-size="14.5" font-weight="bold" text-anchor="middle" fill="#111" >**</text>
<text x="10.80" y="473.90" font-size="20.5" font-weight="bold" text-anchor="start" fill="#111" >E</text>
<line x1="81.50" y1="463.60" x2="81.50" y2="582.10" stroke="#000" stroke-width="1.6" />
<line x1="77.10" y1="581.30" x2="81.50" y2="581.30" stroke="#000" stroke-width="1.5" />
<text x="75.50" y="584.20" font-size="8.3" font-weight="bold" text-anchor="end" fill="#111"  stroke="#111" stroke-width="0.22">0</text>
<line x1="77.10" y1="542.40" x2="81.50" y2="542.40" stroke="#000" stroke-width="1.5" />
<text x="75.50" y="545.30" font-size="8.3" font-weight="bold" text-anchor="end" fill="#111"  stroke="#111" stroke-width="0.22">50000</text>
<line x1="77.10" y1="503.50" x2="81.50" y2="503.50" stroke="#000" stroke-width="1.5" />
<text x="75.50" y="506.40" font-size="8.3" font-weight="bold" text-anchor="end" fill="#111"  stroke="#111" stroke-width="0.22">100000</text>
<line x1="77.10" y1="464.60" x2="81.50" y2="464.60" stroke="#000" stroke-width="1.5" />
<text x="75.50" y="467.50" font-size="8.3" font-weight="bold" text-anchor="end" fill="#111"  stroke="#111" stroke-width="0.22">150000</text>
<text transform="translate(42.90,522.80) rotate(-90)" font-size="9.3" font-weight="bold" text-anchor="middle" fill="#111" textLength="66" lengthAdjust="spacingAndGlyphs">Viable Cells/ml</text>
<line x1="110.90" y1="480.10" x2="110.90" y2="487.80" stroke="#000" stroke-width="1.6" />
<line x1="100.70" y1="480.10" x2="121.10" y2="480.10" stroke="#000" stroke-width="1.6" />
<rect x="91.60" y="487.60" width="38.70" height="93.70" fill="#d3d3d3" stroke="#000" stroke-width="1.6"/>
<line x1="169.60" y1="519.00" x2="169.60" y2="532.40" stroke="#000" stroke-width="1.6" />
<line x1="159.40" y1="519.00" x2="179.80" y2="519.00" stroke="#000" stroke-width="1.6" />
<rect x="149.60" y="532.20" width="39.30" height="49.10" fill="#000" stroke="#000" stroke-width="1.6"/>
<line x1="228.00" y1="539.80" x2="228.00" y2="550.10" stroke="#000" stroke-width="1.6" />
<line x1="217.60" y1="539.80" x2="238.40" y2="539.80" stroke="#000" stroke-width="1.6" />
<rect x="208.40" y="549.90" width="38.80" height="31.40" fill="#737373" stroke="#000" stroke-width="1.6"/>
<line x1="228.00" y1="549.00" x2="228.00" y2="553.00" stroke="#000" stroke-width="1.6" />
<line x1="80.70" y1="581.30" x2="257.00" y2="581.30" stroke="#000" stroke-width="1.6" />
<line x1="110.90" y1="581.30" x2="110.90" y2="585.50" stroke="#000" stroke-width="1.5" />
<line x1="169.60" y1="581.30" x2="169.60" y2="585.50" stroke="#000" stroke-width="1.5" />
<line x1="228.00" y1="581.30" x2="228.00" y2="585.50" stroke="#000" stroke-width="1.5" />
<text x="110.30" y="599.60" font-size="10.8" font-weight="bold" text-anchor="middle" fill="#111" >0</text>
<text x="171.60" y="599.60" font-size="10.8" font-weight="bold" text-anchor="middle" fill="#111" >0.25</text>
<text x="229.20" y="599.60" font-size="10.8" font-weight="bold" text-anchor="middle" fill="#111" >0.50</text>
<text x="227.80" y="538.00" font-size="13" font-weight="normal" text-anchor="middle" fill="#111" stroke="#111" stroke-width="0.35">*</text>
<line x1="106.60" y1="604.70" x2="242.40" y2="604.70" stroke="#000" stroke-width="1.5" />
<text x="139.60" y="621.00" font-size="11" font-weight="bold" text-anchor="start" fill="#111" textLength="44" lengthAdjust="spacingAndGlyphs">COG449</text>
<text x="187.60" y="621.00" font-size="11" font-weight="bold" text-anchor="start" fill="#111" >(</text>
<text x="191.20" y="621.00" font-family="Liberation Serif, serif" font-size="12.5" fill="#111" stroke="#111" stroke-width="0.3">μ</text>
<text x="197.90" y="621.00" font-size="11" font-weight="bold" text-anchor="start" fill="#111" >M</text>
<text x="207.80" y="621.00" font-size="11" font-weight="bold" text-anchor="start" fill="#111" >)</text>
<text x="268.00" y="473.50" font-size="20" font-weight="bold" text-anchor="start" fill="#111" >F</text>
<line x1="341.20" y1="463.60" x2="341.20" y2="582.10" stroke="#000" stroke-width="1.6" />
<line x1="336.80" y1="581.30" x2="341.20" y2="581.30" stroke="#000" stroke-width="1.5" />
<text x="335.20" y="584.20" font-size="8.3" font-weight="bold" text-anchor="end" fill="#111"  stroke="#111" stroke-width="0.22">0</text>
<line x1="336.80" y1="552.12" x2="341.20" y2="552.12" stroke="#000" stroke-width="1.5" />
<text x="335.20" y="555.02" font-size="8.3" font-weight="bold" text-anchor="end" fill="#111"  stroke="#111" stroke-width="0.22">50000</text>
<line x1="336.80" y1="522.94" x2="341.20" y2="522.94" stroke="#000" stroke-width="1.5" />
<text x="335.20" y="525.84" font-size="8.3" font-weight="bold" text-anchor="end" fill="#111"  stroke="#111" stroke-width="0.22">100000</text>
<line x1="336.80" y1="493.76" x2="341.20" y2="493.76" stroke="#000" stroke-width="1.5" />
<text x="335.20" y="496.66" font-size="8.3" font-weight="bold" text-anchor="end" fill="#111"  stroke="#111" stroke-width="0.22">150000</text>
<line x1="336.80" y1="464.58" x2="341.20" y2="464.58" stroke="#000" stroke-width="1.5" />
<text x="335.20" y="467.48" font-size="8.3" font-weight="bold" text-anchor="end" fill="#111"  stroke="#111" stroke-width="0.22">200000</text>
<text transform="translate(292.00,522.80) rotate(-90)" font-size="9.3" font-weight="bold" text-anchor="middle" fill="#111" textLength="66" lengthAdjust="spacingAndGlyphs">Viable Cells/ml</text>
<line x1="371.50" y1="484.80" x2="371.50" y2="507.00" stroke="#000" stroke-width="1.6" />
<line x1="361.10" y1="484.80" x2="381.90" y2="484.80" stroke="#000" stroke-width="1.6" />
<rect x="352.40" y="506.80" width="38.50" height="74.50" fill="#d3d3d3" stroke="#000" stroke-width="1.6"/>
<line x1="429.80" y1="545.80" x2="429.80" y2="552.60" stroke="#000" stroke-width="1.6" />
<line x1="419.60" y1="545.80" x2="440.00" y2="545.80" stroke="#000" stroke-width="1.6" />
<rect x="410.50" y="552.40" width="38.70" height="28.90" fill="#000" stroke="#000" stroke-width="1.6"/>
<line x1="488.60" y1="538.60" x2="488.60" y2="557.80" stroke="#000" stroke-width="1.6" />
<line x1="478.40" y1="538.60" x2="498.80" y2="538.60" stroke="#000" stroke-width="1.6" />
<rect x="468.70" y="557.60" width="39.30" height="23.70" fill="#737373" stroke="#000" stroke-width="1.6"/>
<line x1="340.40" y1="581.30" x2="517.50" y2="581.30" stroke="#000" stroke-width="1.6" />
<line x1="371.50" y1="581.30" x2="371.50" y2="585.50" stroke="#000" stroke-width="1.5" />
<line x1="429.80" y1="581.30" x2="429.80" y2="585.50" stroke="#000" stroke-width="1.5" />
<line x1="488.60" y1="581.30" x2="488.60" y2="585.50" stroke="#000" stroke-width="1.5" />
<text x="371.30" y="598.40" font-size="11" font-weight="bold" text-anchor="middle" fill="#111" >0</text>
<text x="432.00" y="598.40" font-size="11" font-weight="bold" text-anchor="middle" fill="#111" >0.25</text>
<text x="489.80" y="598.40" font-size="11" font-weight="bold" text-anchor="middle" fill="#111" >0.50</text>
<text x="429.80" y="546.20" font-size="13" font-weight="normal" text-anchor="middle" fill="#111" stroke="#111" stroke-width="0.35">*</text>
<line x1="358.80" y1="604.20" x2="503.00" y2="604.20" stroke="#000" stroke-width="1.5" />
<text x="397.40" y="618.80" font-size="11" font-weight="bold" text-anchor="start" fill="#111" textLength="44" lengthAdjust="spacingAndGlyphs">COG449</text>
<text x="445.40" y="618.80" font-size="11" font-weight="bold" text-anchor="start" fill="#111" >(</text>
<text x="449.00" y="618.80" font-family="Liberation Serif, serif" font-size="12.5" fill="#111" stroke="#111" stroke-width="0.3">μ</text>
<text x="455.70" y="618.80" font-size="11" font-weight="bold" text-anchor="start" fill="#111" >M</text>
<text x="465.60" y="618.80" font-size="11" font-weight="bold" text-anchor="start" fill="#111" >)</text>
</svg>
</body></html>
